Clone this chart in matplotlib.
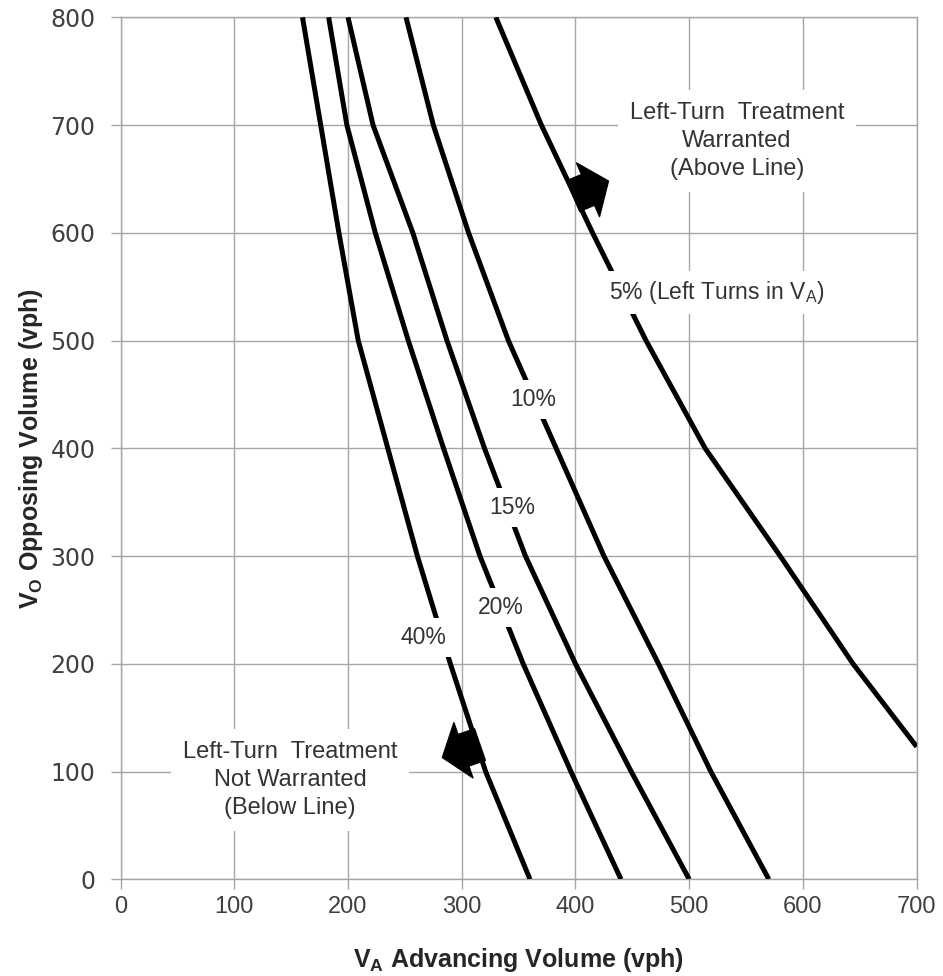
import matplotlib
matplotlib.use('Agg')
import matplotlib.pyplot as plt

plt.rcParams['mathtext.fontset'] = 'custom'
plt.rcParams['mathtext.rm'] = 'Liberation Sans'
plt.rcParams['mathtext.bf'] = 'Liberation Sans:bold'

# opposing volume (vph) at which each curve is read
vo = [800, 700, 600, 500, 400, 300, 200, 100, 0]
va_40 = [160, 176, 192, 209, 235, 261, 290, 321, 360]
va_20 = [183, 199, 224, 253, 284, 316, 354, 396, 440]
va_15 = [200, 222, 257, 287, 320, 356, 400, 449, 500]
va_10 = [251, 275, 306, 341, 383, 425, 473, 519, 570]
# 5% curve runs off the right edge
vo_5 = [800, 700, 600, 500, 400, 300, 200, 123]
va_5 = [330, 370, 415, 462, 514, 580, 644, 700]

x_ticks = [0, 100, 200, 300, 400, 500, 600, 700]
y_ticks = [0, 100, 200, 300, 400, 500, 600, 700, 800]

grid_c = '#a6a6a6'
txt_c = '#404040'

fig = plt.figure(figsize=(9.43, 9.76), dpi=100)
ax = fig.add_axes([0.1278, 0.0991, 0.8443, 0.8832])

for va, v in [(va_40, vo), (va_20, vo), (va_15, vo), (va_10, vo), (va_5, vo_5)]:
    ax.plot(va, v, color='black', lw=3.6, solid_capstyle='butt',
            solid_joinstyle='round', zorder=3)

ax.set_xlim(0, 700)
ax.set_ylim(0, 800)
ax.set_xticks(x_ticks)
ax.set_yticks(y_ticks)
ax.grid(True, color=grid_c, lw=1.0)
ax.set_axisbelow(True)
for s in ax.spines.values():
    s.set_color(grid_c)
    s.set_linewidth(1.0)
ax.tick_params(axis='both', direction='out', length=7, color=grid_c, width=1.0)
ax.tick_params(axis='x', pad=5)
ax.tick_params(axis='y', pad=11)
for lab in ax.get_xticklabels():
    lab.set_family('Liberation Sans')
    lab.set_fontsize(17)
    lab.set_color(txt_c)
for lab in ax.get_yticklabels():
    lab.set_family('DejaVu Sans')
    lab.set_fontsize(17)
    lab.set_color(txt_c)

ax.set_xlabel(r'V$_\mathbf{A}$ Advancing Volume (vph)', fontsize=18, fontweight='bold',
              family='Liberation Sans', color='#262626', labelpad=20)
ax.set_ylabel(r'V$_\mathbf{O}$ Opposing Volume (vph)', fontsize=18, fontweight='bold',
              family='Liberation Sans', color='#262626', labelpad=4)

box = dict(boxstyle='square,pad=0.35', fc='white', ec='none')
lbl = dict(fontsize=16.5, family='Liberation Sans', color='#333333', ha='center', va='center',
           bbox=box, zorder=4)
ax.text(363, 445, '10%', **lbl)
ax.text(344, 345, '15%', **lbl)
ax.text(334, 252, '20%', **lbl)
ax.text(266, 224, '40%', **lbl)
ax.text(524, 545, r'5% (Left Turns in V$_\mathrm{A}$)', **lbl)

big = dict(fontsize=17, family='Liberation Sans', color='#333333', ha='center', va='center',
           linespacing=1.35, zorder=4,
           bbox=dict(boxstyle='square,pad=0.5', fc='white', ec='none'))
ax.text(542, 685, 'Left-Turn  Treatment\nWarranted\n(Above Line)', **big)
ax.text(149, 92, 'Left-Turn  Treatment\nNot Warranted\n(Below Line)', **big)

arrow = dict(arrowstyle='simple,head_length=0.4,head_width=1.05,tail_width=0.6',
             mutation_scale=40, color='black', shrinkA=0, shrinkB=0)
ax.annotate('', xy=(429, 648), xytext=(398, 634), arrowprops=arrow, zorder=5)
ax.annotate('', xy=(283, 113), xytext=(316, 125), arrowprops=arrow, zorder=5)

fig.savefig('out.png', dpi=100)
